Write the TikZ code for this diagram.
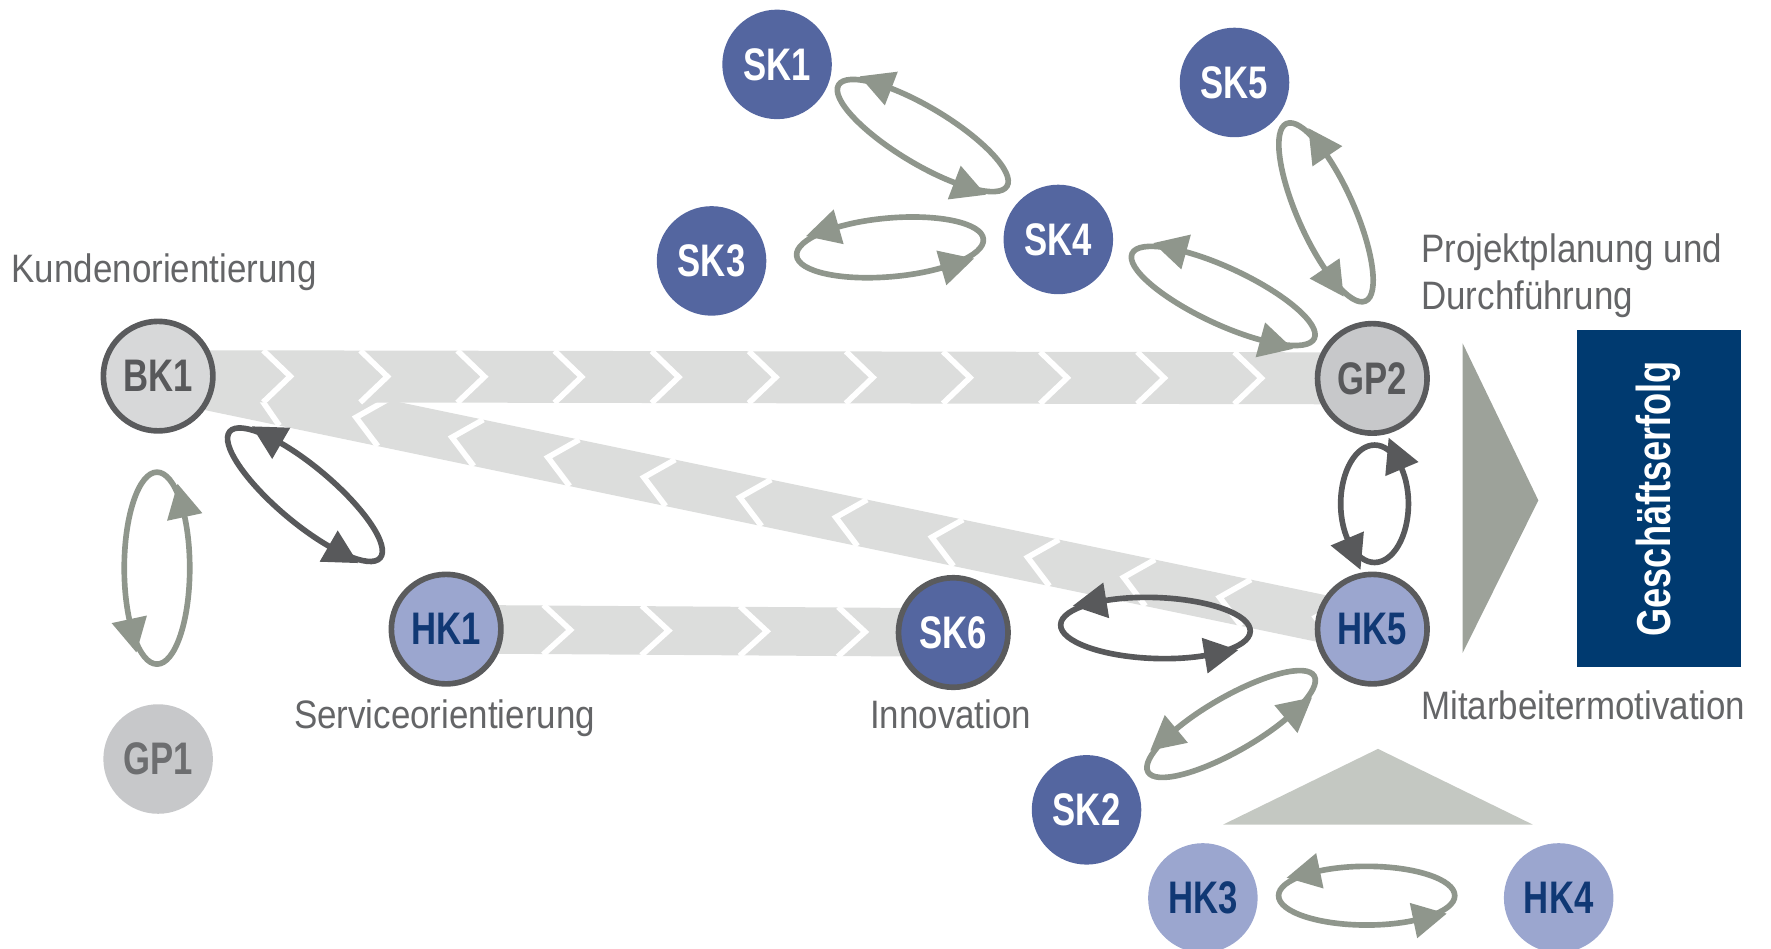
\documentclass[tikz,border=0pt]{standalone}
\usepackage{fontspec}
\usetikzlibrary{decorations.markings, backgrounds}

\newfontfamily\condfont[FakeStretch=0.76]{Liberation Sans}
\newfontfamily\labelfont[FakeStretch=0.88]{Liberation Sans}

\definecolor{skblue}{RGB}{84,102,160}
\definecolor{hkblue}{RGB}{155,166,207}
\definecolor{hktext}{RGB}{16,56,116}
\definecolor{gpgray}{RGB}{199,200,202}
\definecolor{bkgray}{RGB}{215,216,217}
\definecolor{gptext}{RGB}{88,89,91}
\definecolor{gponetext}{RGB}{109,110,112}
\definecolor{rimgray}{RGB}{90,91,93}
\definecolor{bandgray}{RGB}{220,221,220}
\definecolor{loopgreen}{RGB}{143,150,140}
\definecolor{loopdark}{RGB}{88,89,91}
\definecolor{bigtri}{RGB}{157,162,154}
\definecolor{smalltri}{RGB}{196,200,194}
\definecolor{navybox}{RGB}{0,58,112}
\definecolor{labelgray}{RGB}{100,101,103}

\begin{document}
\begin{tikzpicture}[x=0.02cm, y=-0.02cm,
  knot/.style={circle, minimum size=1.94cm, inner sep=0pt,
    font=\condfont\bfseries\fontsize{23}{23}\selectfont},
  sk/.style={knot, fill=skblue, text=white},
  hk/.style={knot, fill=hkblue, text=hktext},
  gp/.style={knot, fill=gpgray, text=gptext},
  rim/.style={draw=rimgray, line width=0.1cm},
  lbl/.style={inner sep=0pt, text=labelgray,
    font=\labelfont\fontsize{20}{23.3}\selectfont},
  band/.style={draw=bandgray, line width=#1},
  chev/.style={draw=white, line width=0.1cm},
  wechsel/.style={color=#1, line width=0.1cm, postaction={decorate},
    decoration={markings,
      mark=at position 0.37 with {\fill (0,-16) -- (30,0) -- (0,16) -- cycle;},
      mark=at position 0.87 with {\fill (0,-16) -- (30,0) -- (0,16) -- cycle;}}}
]
\useasboundingbox (0,0) rectangle (1568,840);

% knots
\node[gp, rim, fill=bkgray] (BK1) at (140,333) {BK1};
\node[gp, text=gponetext] (GP1) at (140,672) {GP1};
\node[hk, rim] (HK1) at (395,557) {HK1};
\node[sk, rim] (SK6) at (844,560) {SK6};
\node[gp, rim] (GP2) at (1215,335) {GP2};
\node[hk, rim] (HK5) at (1215,557) {HK5};
\node[sk] (SK1) at (688,57) {SK1};
\node[sk] (SK5) at (1093,73) {SK5};
\node[sk] (SK3) at (630,231) {SK3};
\node[sk] (SK4) at (937,212) {SK4};
\node[sk] (SK2) at (962,717) {SK2};
\node[hk] (HK3) at (1065,795) {HK3};
\node[hk] (HK4) at (1380,795) {HK4};

% labels
\node[lbl, anchor=base west] (kunden) at (10,250) {Kundenorientierung};
\node[lbl, anchor=base west] (service) at (260,645) {Serviceorientierung};
\node[lbl, anchor=base west] (innov) at (770,645) {Innovation};
\node[lbl, anchor=north west, align=left] (projekt) at (1258,207) {Projektplanung und\\Durchführung};
\node[lbl, anchor=base west] (mitarb) at (1258,637) {Mitarbeitermotivation};

% result
\fill[bigtri] (1295,304) -- (1362,443) -- (1295,578) -- cycle;
\fill[smalltri] (1083,730) -- (1220,663) -- (1357,730) -- cycle;
\node[fill=navybox, text=white, minimum width=5.98cm, minimum height=2.9cm, rotate=90,
  font=\condfont\bfseries\fontsize{24}{24}\selectfont] (erfolg) at (1468.5,441.5) {Geschäftserfolg};

% chevron bands
\begin{pgfonlayer}{background}
\draw[band=0.84cm, postaction={decorate}, decoration={markings,
    mark=at position 1.84cm with {\draw[chev] (0,0) -- (22,21);},
    mark=between positions 3.58cm and 21cm step 1.736cm with {\draw[chev] (24,-21) -- (0,0) -- (24,21);}}]
  (BK1.center) -- (HK5.center);
\draw[band=0.92cm, postaction={decorate}, decoration={markings,
    mark=between positions 2.34cm and 19.6cm step 1.72cm with {\draw[chev] (-24,-23) -- (0,0) -- (-24,23);}}]
  (BK1.center) -- (GP2.center);
\draw[band=0.86cm, postaction={decorate}, decoration={markings,
    mark=between positions 2.2cm and 7.5cm step 1.74cm with {\draw[chev] (-24,-22) -- (0,0) -- (-24,22);}}]
  (HK1.center) -- (SK6.center);
\end{pgfonlayer}

% exchange loops
\coordinate (w1) at (139,503);
\coordinate (w2) at (270,438);
\coordinate (w3) at (817,120);
\coordinate (w4) at (788,219);
\coordinate (w5) at (1083,262);
\coordinate (w6) at (1174,188);
\coordinate (w7) at (1217,446);
\coordinate (w8) at (1023,556);
\coordinate (w9) at (1090,641);
\coordinate (w10) at (1210,793);
\draw[wechsel=loopgreen, rotate around={90:(w1)}] (w1) ellipse [x radius=1.70cm, y radius=0.58cm];
\draw[wechsel=loopdark, rotate around={-40:(w2)}] (w2) ellipse [x radius=1.74cm, y radius=0.50cm];
\draw[wechsel=loopgreen, rotate around={-31:(w3)}] (w3) ellipse [x radius=1.74cm, y radius=0.50cm];
\draw[wechsel=loopgreen, rotate around={5:(w4)}] (w4) ellipse [x radius=1.66cm, y radius=0.52cm];
\draw[wechsel=loopgreen, rotate around={-25:(w5)}] (w5) ellipse [x radius=1.78cm, y radius=0.50cm];
\draw[wechsel=loopgreen, rotate around={-66:(w6)}] (w6) ellipse [x radius=1.72cm, y radius=0.50cm];
\draw[wechsel=loopdark, rotate around={90:(w7)}] (w7) ellipse [x radius=1.04cm, y radius=0.60cm];
\draw[wechsel=loopdark, rotate around={-2:(w8)}] (w8) ellipse [x radius=1.68cm, y radius=0.54cm];
\draw[wechsel=loopgreen, rotate around={30:(w9)}] (w9) ellipse [x radius=1.70cm, y radius=0.48cm];
\draw[wechsel=loopgreen] (w10) ellipse [x radius=1.56cm, y radius=0.52cm];

\end{tikzpicture}
\end{document}
